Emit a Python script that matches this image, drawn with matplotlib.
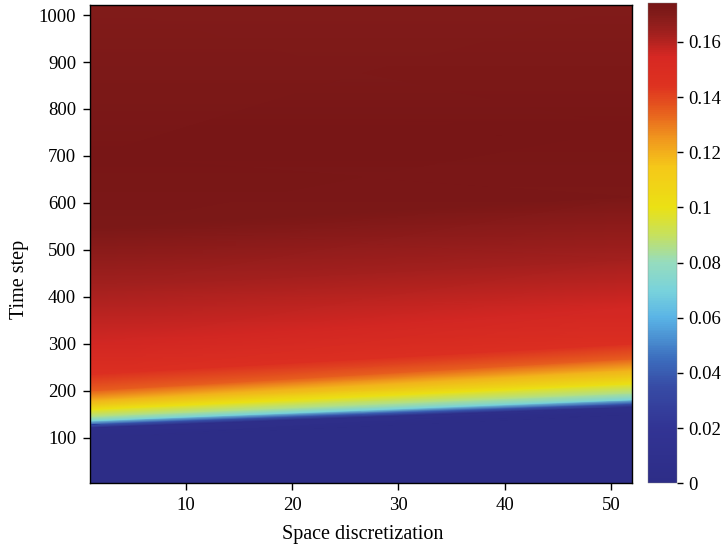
import numpy as np
import matplotlib.pyplot as plt
from matplotlib.colors import LinearSegmentedColormap
from matplotlib.ticker import FuncFormatter

plt.rcParams['font.family'] = ['Liberation Serif', 'DejaVu Serif']

# Concentration levels and the time step at which each level is reached
# at the first (x=1) and last (x=52) space node
levels = [0.0, 0.0, 0.005, 0.04, 0.07, 0.085, 0.10, 0.12, 0.135, 0.148, 0.155, 0.163, 0.172, 0.174, 0.170]
t_left = [1, 100, 122, 129, 136, 145, 160, 180, 200, 235, 300, 420, 548, 700, 1024]
t_right = [1, 150, 166, 173, 181, 195, 215, 245, 268, 300, 380, 480, 614, 760, 1024]
x_nodes = [1, 52]

vmax = 0.174

# muted jet-like colour scale
cmap_stops = [
    (0.0, (45, 45, 135)),
    (0.115, (50, 52, 148)),
    (0.20, (55, 75, 165)),
    (0.26, (60, 110, 190)),
    (0.345, (90, 180, 230)),
    (0.40, (120, 210, 220)),
    (0.46, (150, 220, 190)),
    (0.52, (200, 225, 90)),
    (0.575, (235, 225, 20)),
    (0.66, (245, 200, 25)),
    (0.72, (240, 150, 30)),
    (0.78, (230, 90, 30)),
    (0.83, (222, 50, 32)),
    (0.89, (215, 40, 35)),
    (0.94, (160, 32, 30)),
    (0.977, (130, 28, 26)),
    (1.0, (120, 22, 22)),
]
cmap = LinearSegmentedColormap.from_list(
    'field', [(p, tuple(c / 255 for c in rgb)) for p, rgb in cmap_stops])

X = np.array([x_nodes for _ in levels], dtype=float)
T = np.column_stack([t_left, t_right]).astype(float)
V = np.column_stack([levels, levels])

fig = plt.figure(figsize=(7.27, 5.49), dpi=100)
ax = fig.add_axes([0.1238, 0.1208, 0.7459, 0.8706])
cax = fig.add_axes([0.8918, 0.1197, 0.0399, 0.8743])

mesh = ax.pcolormesh(X, T, V, shading='gouraud', cmap=cmap, vmin=0, vmax=vmax)
ax.set_xlim(1, 52)
ax.set_ylim(4, 1022)
ax.set_xticks([10, 20, 30, 40, 50])
ax.set_yticks(range(100, 1001, 100))
ax.tick_params(direction='out', length=5, width=1, pad=5, labelsize=13.5)
for s in ax.spines.values():
    s.set_linewidth(1)
ax.set_xlabel('Space discretization', fontsize=14.5)
ax.set_ylabel('Time step', fontsize=14.5)
ax.xaxis.set_label_coords(0.502, -0.088)
ax.yaxis.set_label_coords(-0.112, 0.426)

cb = fig.colorbar(mesh, cax=cax)
cb.set_ticks([0, 0.02, 0.04, 0.06, 0.08, 0.1, 0.12, 0.14, 0.16])
cb.ax.yaxis.set_major_formatter(FuncFormatter(lambda v, p: f'{v:g}'))
cb.ax.tick_params(direction='out', length=4, width=1, pad=4, labelsize=13.5)
cb.outline.set_linewidth(0.3)
cb.outline.set_edgecolor('#888888')

fig.savefig('out.png', dpi=100)
